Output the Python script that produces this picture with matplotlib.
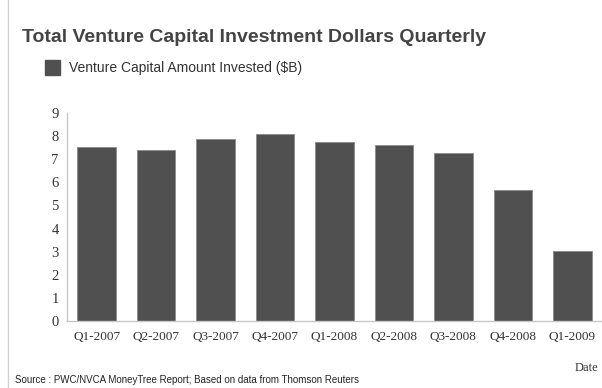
import matplotlib.pyplot as plt
from matplotlib.lines import Line2D

quarters = ['Q1-2007', 'Q2-2007', 'Q3-2007', 'Q4-2007', 'Q1-2008',
            'Q2-2008', 'Q3-2008', 'Q4-2008', 'Q1-2009']
invested = [7.54, 7.40, 7.89, 8.08, 7.76, 7.60, 7.26, 5.68, 3.03]
yticks = list(range(0, 10))

W, H = 602, 388
fig = plt.figure(figsize=(W / 100, H / 100), dpi=100)
fig.patch.set_facecolor('white')

# axes box in pixel units
left, right, bottom, top = 67, 602, 388 - 321, 388 - 113
ax = fig.add_axes([left / W, bottom / H, (right - left) / W, (top - bottom) / H])

x = range(len(quarters))
ax.bar(x, invested, width=0.65, color='#505050', edgecolor='#8a8a8a', linewidth=0.6)
ax.set_xlim(-0.5, len(quarters) - 0.5)
ax.set_ylim(0, 9)

ax.set_xticks(list(x))
ax.set_xticklabels(quarters, family='Liberation Serif', fontsize=9.5, color='#333333')
ax.set_yticks(yticks)
ax.set_yticklabels([str(v) for v in yticks], family='Liberation Serif', fontsize=10.5, color='#333333')
ax.tick_params(length=0, pad=6)
ax.tick_params(axis='x', pad=7)

for side in ('top', 'right'):
    ax.spines[side].set_visible(False)
for side in ('left', 'bottom'):
    ax.spines[side].set_color('#c8c8c8')
    ax.spines[side].set_linewidth(1)

# title, legend, notes
fig.text(22 / W, 1 - 37 / H, 'Total Venture Capital Investment Dollars Quarterly',
         family='Liberation Sans', fontweight='bold',
         fontsize=14, color='#444444', va='center', ha='left')
fig.patches.append(plt.Rectangle((45 / W, 1 - 75 / H), 15 / W, 15 / H,
                                 transform=fig.transFigure, color='#505050'))
fig.text(69 / W, 1 - 68 / H, 'Venture Capital Amount Invested ($B)',
         family='Liberation Sans', fontsize=10,
         color='#333333', va='center', ha='left')
fig.text(598 / W, 1 - 368 / H, 'Date', family='Liberation Serif', fontsize=9,
         color='#333333', va='center', ha='right')
fig.text(15 / W, 1 - 380 / H, 'Source : PWC/NVCA MoneyTree Report; Based on data from Thomson Reuters',
         family='Liberation Sans', fontsize=7, color='#222222', va='center', ha='left')

# thin frame line down the left edge
fig.add_artist(Line2D([8 / W, 8 / W], [0, 1], transform=fig.transFigure,
                      color='#d0d0d0', linewidth=1))

fig.savefig('out.png', dpi=100)
